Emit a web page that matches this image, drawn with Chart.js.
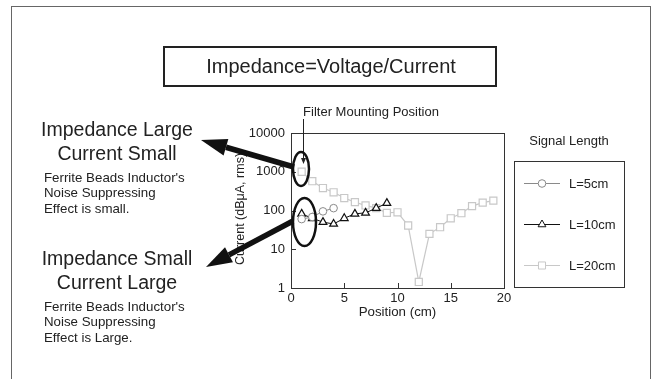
<!DOCTYPE html>
<html><head><meta charset="utf-8">
<script src="https://cdn.jsdelivr.net/npm/chart.js@4/dist/chart.umd.min.js"></script>
<style>html,body{margin:0;padding:0;background:#fff}</style>
</head><body>
<canvas id="c" width="655" height="379"></canvas>
<script>
const seriesNames = ['L=5cm', 'L=10cm', 'L=20cm'];
const pos5 = [1, 2, 3, 4];
const cur5 = [60, 68, 95, 115];
const pos10 = [1, 2, 3, 4, 5, 6, 7, 8, 9];
const cur10 = [82, 63, 50, 45, 63, 82, 87, 115, 155];
const pos20 = [1, 2, 3, 4, 5, 6, 7, 8, 9, 10, 11, 12, 13, 14, 15, 16, 17, 18, 19];
const cur20 = [1000, 570, 380, 295, 210, 165, 135, 115, 87, 90, 41, 1.43, 25, 37, 63, 85, 130, 160, 180];
const xTicks = [0, 5, 10, 15, 20];
const yTicks = [1, 10, 100, 1000, 10000];
const xTitle = 'Position (cm)';
const yTitle = 'Current (dBμA, rms)';
const mainTitle = 'Impedance=Voltage/Current';
const legendTitle = 'Signal Length';
const filterLabel = 'Filter Mounting Position';
const upperHead = ['Impedance Large', 'Current Small'];
const upperNote = ["Ferrite Beads Inductor's", 'Noise Suppressing', 'Effect is small.'];
const lowerHead = ['Impedance Small', 'Current Large'];
const lowerNote = ["Ferrite Beads Inductor's", 'Noise Suppressing', 'Effect is Large.'];

const FONT = '"Liberation Sans", Arial, Helvetica, sans-serif';
const toPts = (xs, ys) => xs.map((x, i) => ({x: x, y: ys[i]}));

function arrow(ctx, x1, y1, x2, y2, w, hl, hw) {
  const a = Math.atan2(y2 - y1, x2 - x1);
  const bx = x2 - hl * Math.cos(a), by = y2 - hl * Math.sin(a);
  ctx.save();
  ctx.strokeStyle = '#111'; ctx.fillStyle = '#111';
  ctx.lineWidth = w; ctx.lineCap = 'butt';
  ctx.beginPath(); ctx.moveTo(x1, y1); ctx.lineTo(bx, by); ctx.stroke();
  const nx = -Math.sin(a), ny = Math.cos(a);
  ctx.beginPath();
  ctx.moveTo(x2, y2);
  ctx.lineTo(bx + nx * hw / 2, by + ny * hw / 2);
  ctx.lineTo(bx - nx * hw / 2, by - ny * hw / 2);
  ctx.closePath(); ctx.fill();
  ctx.restore();
}

const deco = {
  id: 'deco',
  beforeDraw(chart) {
    const ctx = chart.ctx;
    ctx.save();
    ctx.fillStyle = '#fff';
    ctx.fillRect(0, 0, chart.width, chart.height);
    ctx.restore();
  },
  afterDraw(chart) {
    const ctx = chart.ctx;
    const ca = chart.chartArea;
    const xs = chart.scales.x, ys = chart.scales.y;
    ctx.save();
    // outer frame
    ctx.strokeStyle = '#666'; ctx.lineWidth = 1;
    ctx.strokeRect(11.5, 6.5, 639, 420);
    // plot frame
    ctx.strokeStyle = '#333';
    ctx.strokeRect(Math.round(ca.left) + 0.5, Math.round(ca.top) + 0.5, Math.round(ca.right - ca.left), Math.round(ca.bottom - ca.top));
    // inner tick marks
    ctx.beginPath();
    xTicks.forEach(v => {
      if (v === xTicks[0] || v === xTicks[xTicks.length - 1]) return;
      const px = Math.round(xs.getPixelForValue(v)) + 0.5;
      ctx.moveTo(px, ca.bottom); ctx.lineTo(px, ca.bottom - 5);
    });
    yTicks.forEach(v => {
      if (v === yTicks[0] || v === yTicks[yTicks.length - 1]) return;
      const py = Math.round(ys.getPixelForValue(v)) + 0.5;
      ctx.moveTo(ca.left, py); ctx.lineTo(ca.left + 5, py);
    });
    ctx.stroke();
    // axis titles
    ctx.fillStyle = '#222';
    ctx.textAlign = 'center'; ctx.textBaseline = 'middle';
    ctx.font = '13.3px ' + FONT;
    ctx.fillText(xTitle, (ca.left + ca.right) / 2, 312);
    ctx.save();
    ctx.translate(241, 209); ctx.rotate(-Math.PI / 2);
    ctx.font = '12.5px ' + FONT;
    ctx.fillText(yTitle, 0, 0);
    ctx.restore();
    // title box
    ctx.strokeStyle = '#222'; ctx.lineWidth = 2;
    ctx.strokeRect(164, 47, 332, 39);
    ctx.font = '20px ' + FONT;
    ctx.fillText(mainTitle, 331, 67);
    // filter label and pointer
    ctx.font = '13px ' + FONT;
    ctx.fillText(filterLabel, 371, 112);
    ctx.strokeStyle = '#222'; ctx.lineWidth = 1;
    ctx.beginPath(); ctx.moveTo(303.5, 119); ctx.lineTo(303.5, 162); ctx.stroke();
    ctx.beginPath(); ctx.moveTo(303.5, 164); ctx.lineTo(301, 158); ctx.lineTo(306, 158); ctx.closePath(); ctx.fill();
    // ellipses
    ctx.strokeStyle = '#111'; ctx.lineWidth = 2.5;
    ctx.beginPath(); ctx.ellipse(301, 169, 8, 17, 0, 0, Math.PI * 2); ctx.stroke();
    ctx.beginPath(); ctx.ellipse(304.5, 222, 11.5, 24, 0, 0, Math.PI * 2); ctx.stroke();
    // arrows
    arrow(ctx, 294, 167, 201, 140, 5.5, 26, 17);
    arrow(ctx, 293, 221, 206, 267, 5.5, 26, 17);
    // left annotations
    ctx.fillStyle = '#222';
    ctx.font = '19.5px ' + FONT;
    ctx.textAlign = 'center';
    ctx.fillText(upperHead[0], 117, 131);
    ctx.fillText(upperHead[1], 117, 155);
    ctx.fillText(lowerHead[0], 117, 260);
    ctx.fillText(lowerHead[1], 117, 284);
    ctx.font = '13.3px ' + FONT;
    ctx.textAlign = 'left';
    upperNote.forEach((t, i) => ctx.fillText(t, 44, 178 + i * 15.5));
    lowerNote.forEach((t, i) => ctx.fillText(t, 44, 307 + i * 15.5));
    // legend
    ctx.textAlign = 'center';
    ctx.font = '13px ' + FONT;
    ctx.fillText(legendTitle, 569, 141);
    ctx.strokeStyle = '#333'; ctx.lineWidth = 1;
    ctx.strokeRect(514.5, 161.5, 110, 126);
    ctx.textAlign = 'left';
    chart.data.datasets.forEach((ds, i) => {
      const y = 183 + i * 41;
      ctx.strokeStyle = ds.borderColor; ctx.lineWidth = 1;
      ctx.beginPath(); ctx.moveTo(524, y + 0.5); ctx.lineTo(560, y + 0.5); ctx.stroke();
      ctx.fillStyle = '#fff';
      Chart.helpers.drawPoint(ctx, {pointStyle: ds.pointStyle, radius: ds.pointRadius, rotation: 0, borderWidth: 1}, 542, y + 0.5);
      ctx.fillStyle = '#222';
      ctx.fillText(ds.label, 569, y + 1);
    });
    ctx.restore();
  }
};

const tickFont = {family: FONT, size: 13};
new Chart(document.getElementById('c'), {
  type: 'line',
  data: {
    datasets: [
      {label: seriesNames[0], data: toPts(pos5, cur5), borderColor: '#8a8a8a', pointBorderColor: '#8a8a8a', pointBackgroundColor: '#fff', pointStyle: 'circle', pointRadius: 3.8, borderWidth: 1, pointBorderWidth: 1, tension: 0},
      {label: seriesNames[1], data: toPts(pos10, cur10), borderColor: '#111', pointBorderColor: '#111', pointBackgroundColor: '#fff', pointStyle: 'triangle', pointRadius: 4.5, borderWidth: 1, pointBorderWidth: 1.2, tension: 0},
      {label: seriesNames[2], data: toPts(pos20, cur20), borderColor: '#c8c8c8', pointBorderColor: '#c8c8c8', pointBackgroundColor: '#fff', pointStyle: 'rect', pointRadius: 5, borderWidth: 1.2, pointBorderWidth: 1.2, tension: 0}
    ]
  },
  options: {
    responsive: false, animation: false, devicePixelRatio: 1,
    layout: {padding: {left: 0, right: 151, top: 133, bottom: 0}},
    plugins: {legend: {display: false}, tooltip: {enabled: false}, title: {display: false}},
    scales: {
      x: {
        type: 'linear', min: xTicks[0], max: xTicks[xTicks.length - 1],
        afterBuildTicks: s => { s.ticks = xTicks.map(v => ({value: v})); },
        afterFit: s => { s.height = 91; },
        grid: {display: false, drawTicks: false},
        border: {display: false},
        ticks: {font: tickFont, color: '#222', padding: 3, maxRotation: 0, autoSkip: false, callback: v => String(v)}
      },
      y: {
        type: 'logarithmic', min: yTicks[0], max: yTicks[yTicks.length - 1],
        afterBuildTicks: s => { s.ticks = yTicks.map(v => ({value: v})); },
        afterFit: s => { s.width = 291; },
        grid: {display: false, drawTicks: false},
        border: {display: false},
        ticks: {font: tickFont, color: '#222', padding: 6, autoSkip: false, callback: v => String(v)}
      }
    }
  },
  plugins: [deco]
});
</script>
</body></html>
